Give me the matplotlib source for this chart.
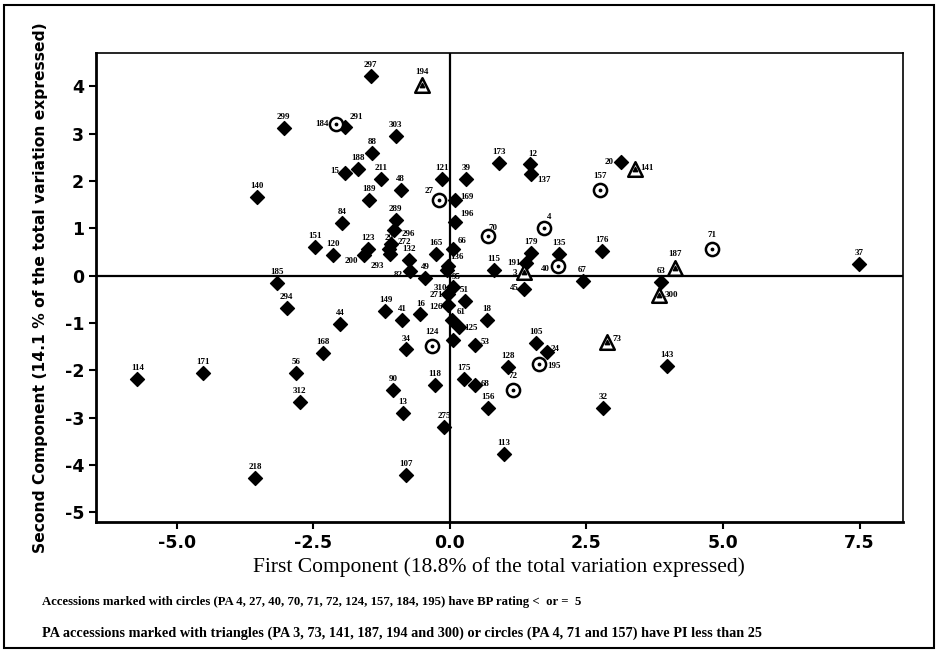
import numpy as np
from matplotlib import pyplot as plt
from matplotlib.patches import Rectangle

plt.rcParams['axes.unicode_minus'] = False

# accessions shown as filled diamonds
dia_lab = ["297","299","291","303","88","188","15","211","121","39","48","189","169","140",
           "173","12","137","20","196","289","296","84","151","120","123","200","29","293",
           "272","132","82","49","165","66","136","95","310","271","126","51","45","67","115",
           "191","179","135","176","149","41","16","61","125","","18","34","53","105","24",
           "128","118","175","68","90","156","32","13","275","113","107","312","218","294",
           "44","168","56","114","171","185","63","143","37"]
dia_x = [-1.45,-3.04,-1.92,-0.99,-1.42,-1.68,-1.92,-1.26,-0.14,0.30,-0.90,-1.48,0.09,-3.53,
         0.89,1.47,1.48,3.13,0.09,-0.99,-1.02,-1.98,-2.47,-2.14,-1.50,-1.58,-1.11,-1.10,
         -1.08,-0.75,-0.73,-0.45,-0.26,0.06,-0.04,-0.06,0.05,-0.03,-0.03,0.27,1.36,2.43,0.81,
         1.40,1.48,2.00,2.79,-1.18,-0.87,-0.54,0.03,0.17,0.06,0.67,-0.81,0.46,1.57,1.77,
         1.07,-0.27,0.26,0.46,-1.04,0.69,2.80,-0.86,-0.10,0.99,-0.81,-2.75,-3.56,-2.99,
         -2.01,-2.32,-2.81,-5.72,-4.52,-3.17,3.86,3.98,7.49]
dia_y = [4.22,3.13,3.15,2.95,2.60,2.25,2.16,2.05,2.05,2.05,1.82,1.61,1.61,1.67,
         2.38,2.37,2.15,2.41,1.13,1.17,0.96,1.12,0.61,0.43,0.57,0.43,0.57,0.45,
         0.68,0.33,0.10,-0.05,0.45,0.57,0.20,0.12,-0.24,-0.38,-0.61,-0.54,-0.29,-0.12,0.12,
         0.26,0.49,0.45,0.52,-0.75,-0.93,-0.82,-0.93,-1.08,-1.35,-0.94,-1.56,-1.46,-1.42,-1.61,
         -1.93,-2.30,-2.19,-2.31,-2.41,-2.79,-2.79,-2.91,-3.20,-3.77,-4.22,-2.67,-4.27,-0.69,
         -1.03,-1.63,-2.05,-2.19,-2.05,-0.15,-0.14,-1.91,0.24]

# BP rating <= 5 (circles)
cir_lab = ["184","27","70","4","40","157","71","124","195","72"]
cir_x = [-2.09,-0.20,0.69,1.72,1.98,2.75,4.80,-0.32,1.63,1.16]
cir_y = [3.20,1.61,0.84,1.01,0.21,1.82,0.57,-1.48,-1.87,-2.41]

# PI < 25 (triangles)
tri_lab = ["194","141","3","187","300","73"]
tri_x = [-0.51,3.39,1.36,4.12,3.83,2.87]
tri_y = [4.02,2.25,0.08,0.17,-0.40,-1.40]

# label placement tweaks (dx, dy in points, ha)
place = {"184":(-5,0,"right"),"291":(3,4,"left"),"15":(-4,2,"right"),"27":(-4,3,"right"),
         "169":(4,2,"left"),"196":(4,3,"left"),"296":(5,-3,"left"),"272":(5,1,"left"),
         "200":(-4,-4,"right"),"293":(-4,-8,"right"),"82":(-5,-3,"right"),"137":(5,-4,"left"),
         "20":(-5,0,"right"),"141":(4,1,"left"),"70":(1,3,"left"),"66":(3,3,"left"),
         "136":(2,4,"left"),"95":(4,-5,"left"),"191":(-4,0,"right"),"3":(-5,-1,"right"),
         "40":(-6,-2,"right"),"310":(-4,-1,"right"),"271":(-4,-1,"right"),"126":(-4,-2,"right"),
         "45":(-4,1,"right"),"125":(4,-1,"left"),"53":(4,2,"left"),"24":(3,2,"left"),
         "195":(6,-1,"left"),"73":(4,2,"left"),"68":(4,1,"left"),"300":(4,0,"left"),
         "61":(4,3,"left"),"4":(2,5,"left"),"12":(2,4,"center")}

fig = plt.figure(figsize=(9.38, 6.51), dpi=100)
ax = fig.add_axes([0.1023, 0.1986, 0.8601, 0.7195])

ax.axhline(0, color="black", lw=1.6, zorder=1)
ax.axvline(0, color="black", lw=1.6, zorder=1)

ax.scatter(dia_x, dia_y, marker="D", s=50, color="black", zorder=3)
ax.scatter(cir_x, cir_y, marker="o", s=90, facecolor="white", edgecolor="black", lw=1.8, zorder=3)
ax.scatter(cir_x, cir_y, marker="o", s=3, color="black", zorder=4)
ax.scatter(tri_x, tri_y, marker="^", s=110, facecolor="white", edgecolor="black", lw=1.8, zorder=3)
ax.scatter(tri_x, tri_y, marker="^", s=10, color="black", zorder=4)

for labs, xs, ys, base in [(dia_lab, dia_x, dia_y, 5), (cir_lab, cir_x, cir_y, 7), (tri_lab, tri_x, tri_y, 7)]:
    for l, x, y in zip(labs, xs, ys):
        if not l:
            continue
        dx, dy, ha = place.get(l, (0, base, "center"))
        ax.annotate(l, (x, y), xytext=(dx, dy), textcoords="offset points", ha=ha,
                    va="bottom" if dy > 2 else "center", fontsize=6.5, fontweight="bold",
                    family="Liberation Serif", zorder=5)

ax.set_xlim(-6.48, 8.29)
ax.set_ylim(-5.2, 4.70)
ax.set_xticks([-5.0, -2.5, 0.0, 2.5, 5.0, 7.5])
ax.set_xticklabels(["-5.0", "-2.5", "0.0", "2.5", "5.0", "7.5"])
ax.set_yticks(range(-5, 5))
ax.tick_params(width=1.5, length=5, labelsize=12.5)
for t in ax.get_xticklabels() + ax.get_yticklabels():
    t.set_fontweight("bold")
for s in ["left", "bottom"]:
    ax.spines[s].set_linewidth(2)
for s in ["top", "right"]:
    ax.spines[s].set_linewidth(1.2)

ax.set_xlabel("First Component (18.8% of the total variation expressed)", family="Liberation Serif",
              fontsize=15.5, labelpad=4)
ax.set_ylabel("Second Component (14.1 % of the total variation expressed)", fontweight="bold",
              fontsize=11.2, labelpad=12)

fig.text(0.045, 0.075, "Accessions marked with circles (PA 4, 27, 40, 70, 71, 72, 124, 157, 184, 195) have BP rating <  or =  5",
         family="Liberation Serif", fontweight="bold", fontsize=9.2, va="center")
fig.text(0.045, 0.028, "PA accessions marked with triangles (PA 3, 73, 141, 187, 194 and 300) or circles (PA 4, 71 and 157) have PI less than 25",
         family="Liberation Serif", fontweight="bold", fontsize=10.3, va="center")

fig.patches.append(Rectangle((0.004, 0.004), 0.992, 0.988, transform=fig.transFigure,
                             fill=False, lw=1.5, color="black"))

fig.savefig("out.png", dpi=100)
